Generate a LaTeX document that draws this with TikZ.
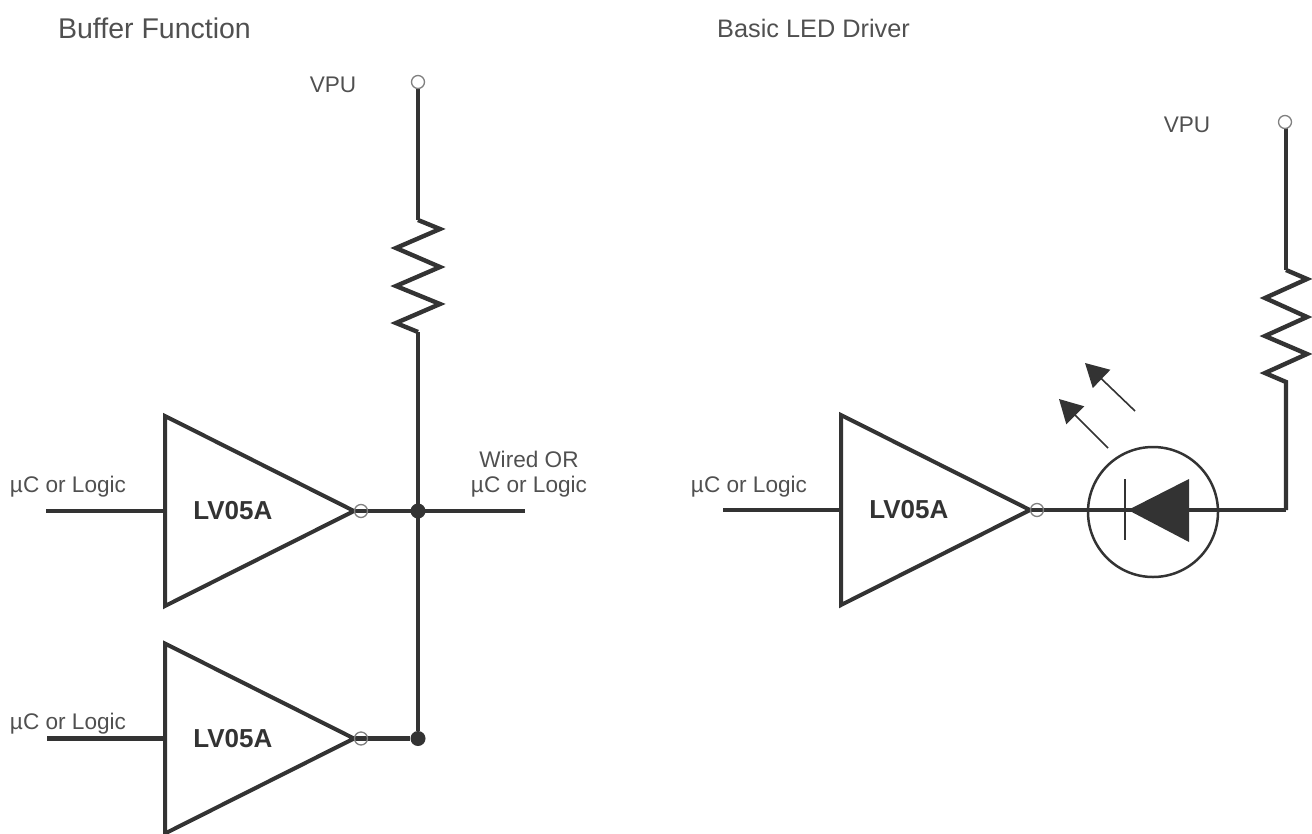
\documentclass[tikz,border=0pt]{standalone}
\usepackage{fontspec}
\setmainfont{Liberation Sans}
\usetikzlibrary{arrows.meta,shapes.geometric}
\definecolor{inkc}{HTML}{333333}
\definecolor{textc}{HTML}{505050}

\begin{document}
\begin{tikzpicture}[x=1pt,y=-1pt,inkc,line join=miter,
  wire/.style={line width=4.4pt},
  ray/.style={line width=1.6pt,-{Triangle[length=23pt,width=25pt]}},
  buf node/.style={isosceles triangle,isosceles triangle apex angle=53.4,
    isosceles triangle stretches,minimum width=190pt,minimum height=189pt,
    inner sep=0pt,outer sep=0pt,anchor=lower side,draw,line width=4pt,
    font=\fontsize{26}{30}\selectfont\bfseries,text=inkc},
  bubble/.style={circle,draw=gray,line width=1.3pt,minimum size=13pt,inner sep=0pt},
  dot/.style={circle,fill=inkc,minimum size=15pt,inner sep=0pt},
  title/.style={font=\fontsize{#1}{32}\selectfont,text=textc},
  label/.style={font=\fontsize{22.6}{25}\selectfont,text=textc,align=center}]

  \useasboundingbox (0,0) rectangle (1312,833);

  % buffer function
  \node[title=28.5] (t1) at (154.5,28) {Buffer Function};
  \node[label] (vpu1) at (333,85) {VPU};
  \node[label] (in1) at (68,486.5) {µC or Logic};
  \node[label] (in2) at (68,723.5) {µC or Logic};
  \node[label] (wor) at (529,474) {Wired OR\\µC or Logic};

  \coordinate (a1) at (46,511);
  \coordinate (a2) at (47,738.5);
  \coordinate (q1) at (525,511);
  \coordinate (r1t) at (418,220);
  \coordinate (r1b) at (418,332);
  \coordinate (p1) at (418,88);

  \node[buf node] (u1) at (165,511) {LV05A};
  \node[buf node] (u2) at (165,738.5) {LV05A};
  \node[dot] (j1) at (418,511) {};
  \node[dot] (j2) at (418,738.5) {};

  \path[wire]
    (a1) edge (u1.lower side)
    (a2) edge (u2.lower side)
    (u1.apex) edge (q1)
    (u2.apex) edge (j2)
    (p1) edge (r1t)
    (r1b) edge (j2);
  \draw[wire] (r1t) -- ++(22,9) -- ++(-44,19) -- ++(44,19) -- ++(-44,19)
    -- ++(44,18) -- ++(-44,19) -- (r1b);

  \node[bubble] (o1) at (361,511) {};
  \node[bubble] (o2) at (361,738.5) {};
  \node[bubble] (v1) at (418,82) {};

  % basic led driver
  \node[title=25.3] (t2) at (813.5,28) {Basic LED Driver};
  \node[label] (vpu2) at (1187,124.5) {VPU};
  \node[label] (in3) at (749,486.5) {µC or Logic};

  \coordinate (a3) at (723,510);
  \coordinate (r2t) at (1286,270);
  \coordinate (r2b) at (1286,382);
  \coordinate (k) at (1286,510);
  \coordinate (p2) at (1286,128);
  \coordinate (s1) at (1108,448);
  \coordinate (e1) at (1059,399);
  \coordinate (s2) at (1135,411);
  \coordinate (e2) at (1085,363);

  \node[buf node] (u3) at (841,510) {LV05A};
  \node[circle,draw,line width=2.5pt,minimum size=130pt,inner sep=0pt] (led) at (1153,512) {};

  \path[wire]
    (a3) edge (u3.lower side)
    (p2) edge (r2t)
    (u3.apex) edge (k);
  \draw[wire] (r2t) -- ++(21,9) -- ++(-42,19) -- ++(42,19) -- ++(-42,19)
    -- ++(42,18) -- ++(-42,19) -- (r2b) -- (k);

  \node[bubble] (o3) at (1037,510) {};
  \node[bubble] (v2) at (1285,122) {};

  \fill (1128,510) -- (1189,479) -- (1189,542) -- cycle;
  \draw[line width=2.5pt] (1125,479) -- (1125,540);

  \draw[ray] (s1) -- (e1);
  \draw[ray] (s2) -- (e2);
\end{tikzpicture}
\end{document}
